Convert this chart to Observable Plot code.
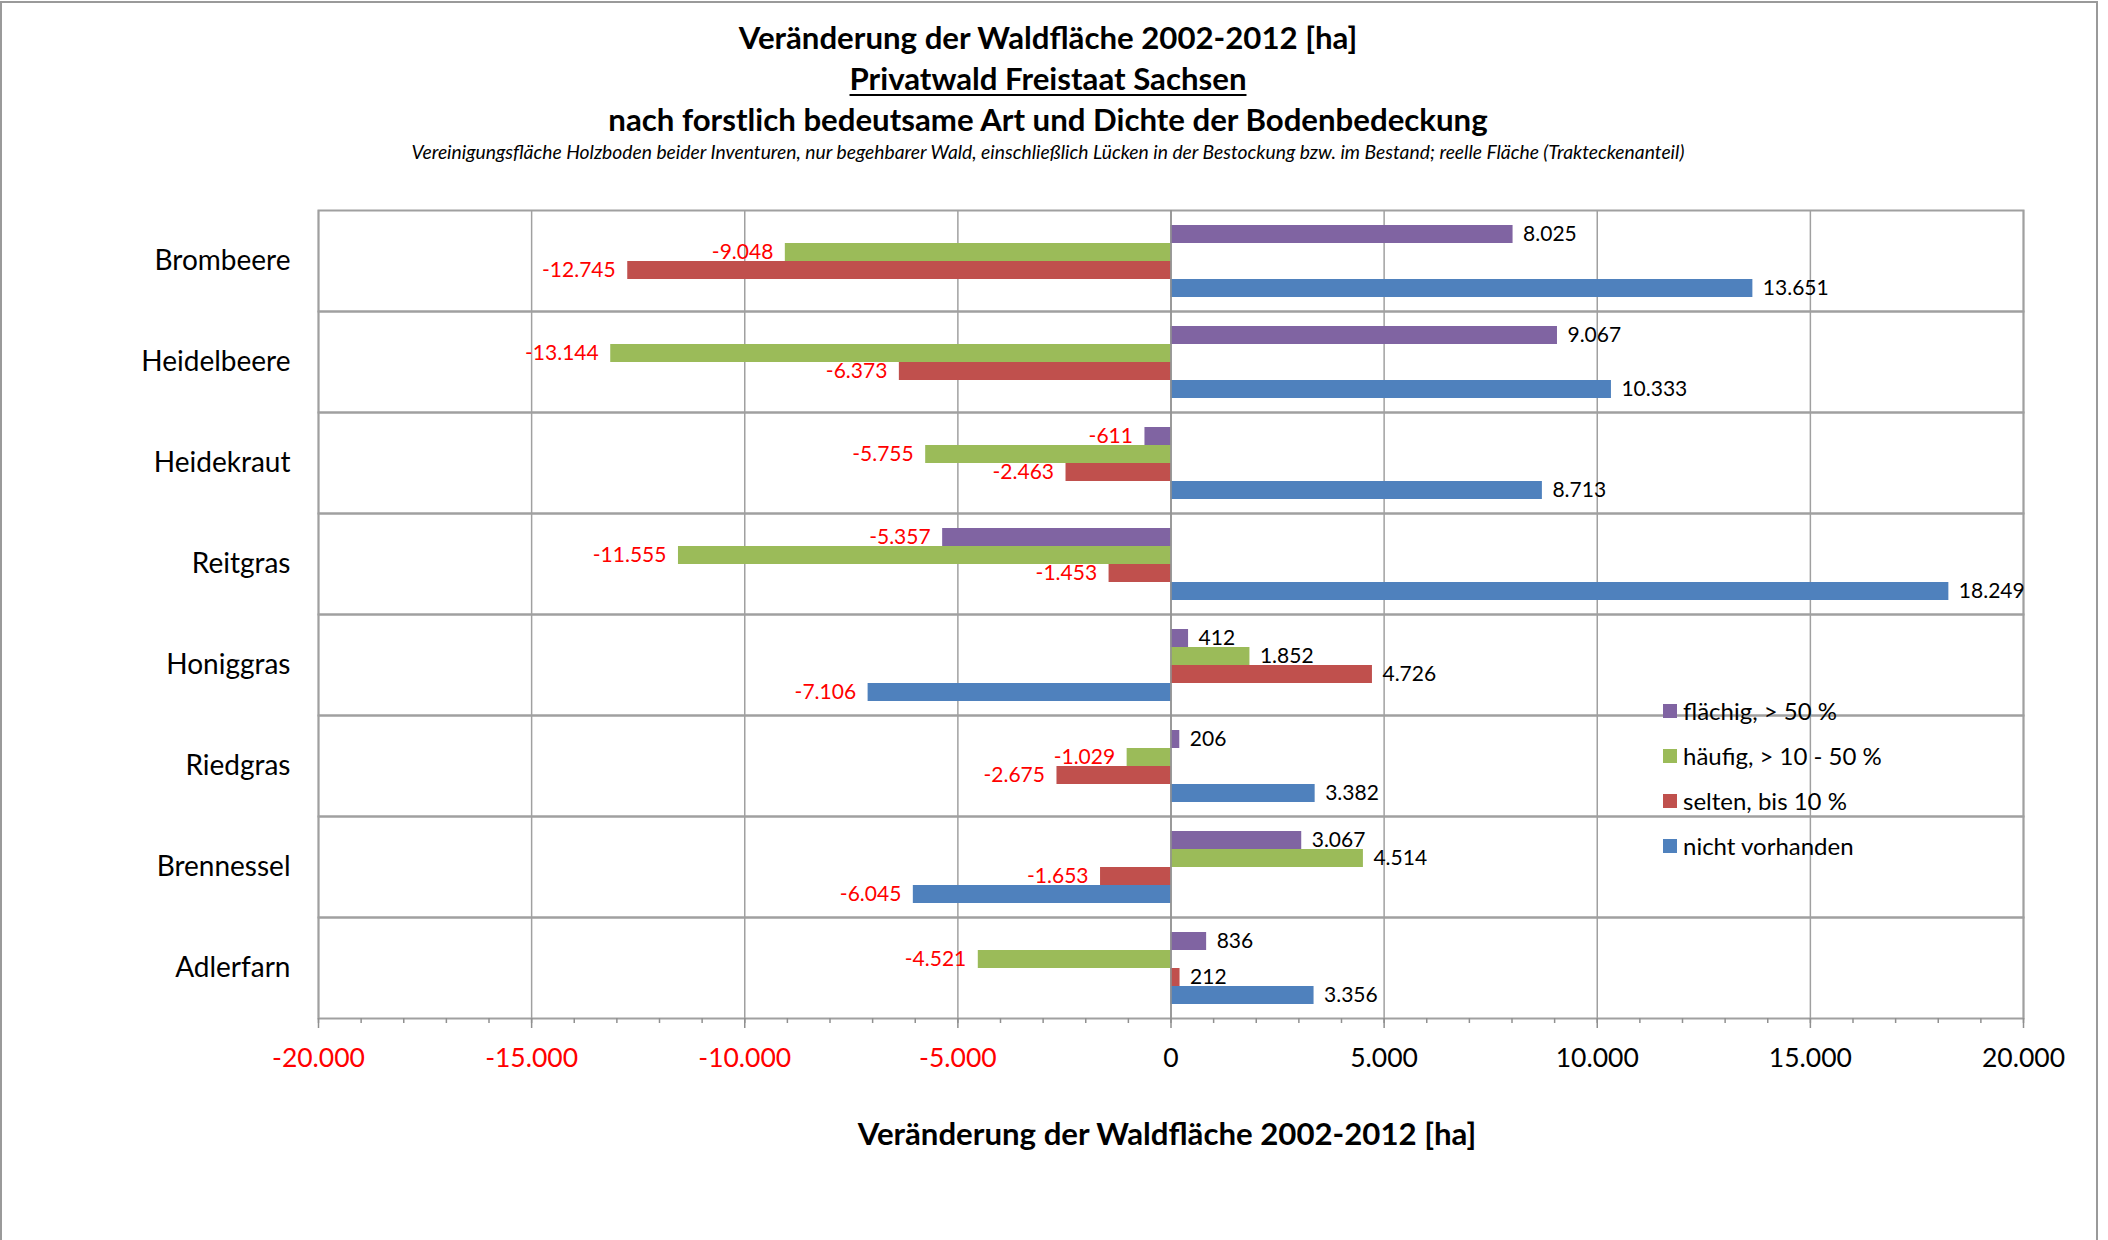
<!DOCTYPE html>
<html>
<head>
<meta charset="utf-8">
<script src="https://cdn.jsdelivr.net/npm/d3@7"></script>
<script src="https://cdn.jsdelivr.net/npm/@observablehq/plot@0.6"></script>
<style>
  html, body { margin: 0; padding: 0; background: #fff; overflow: hidden; }
  body { font-family: Lato, "Open Sans", sans-serif; }
  #wrap { position: relative; width: 2108px; height: 1240px; }
  #border { position: absolute; left: 0; top: 1px; width: 2098px; height: 1300px; border: 2px solid #9a9a9a; box-sizing: border-box; pointer-events: none; }
  #header { position: relative; height: 170px; }
  .t { position: absolute; left: 0; width: 2096px; text-align: center; color: #000; white-space: nowrap; }
  .t1 { font-weight: bold; font-size: 31.2px; line-height: 40px; }
  .sub { font-style: italic; font-size: 19.3px; line-height: 24px; }
  #xlabel { position: absolute; left: 0; width: 2334px; text-align: center; top: 1113px; font-weight: bold; font-size: 31.2px; line-height: 40px; color: #000; }
  #legend { position: absolute; left: 1663px; top: 688px; font-size: 24px; color: #000; }
  #legend .row { height: 45px; display: flex; align-items: center; }
  #legend .sw { width: 14px; height: 14px; margin-right: 6px; flex: none; }
  #chart svg { display: block; }
</style>
</head>
<body>
<div id="wrap">
  <div id="border"></div>
  <div id="header"></div>
  <div id="chart"></div>
  <div id="xlabel"></div>
  <div id="legend"></div>
</div>
<script>
const titleLines = ["Veränderung der Waldfläche 2002-2012 [ha]", "Privatwald Freistaat Sachsen", "nach forstlich bedeutsame Art und Dichte der Bodenbedeckung"];
const subtitle = "Vereinigungsfläche Holzboden beider Inventuren, nur begehbarer Wald, einschließlich Lücken in der Bestockung bzw. im Bestand; reelle Fläche (Trakteckenanteil)";
const xTitle = "Veränderung der Waldfläche 2002-2012 [ha]";

const categories = ["Brombeere", "Heidelbeere", "Heidekraut", "Reitgras", "Honiggras", "Riedgras", "Brennessel", "Adlerfarn"];
const seriesNames = ["flächig, > 50 %", "häufig, > 10 - 50 %", "selten, bis 10 %", "nicht vorhanden"];
const seriesColors = ["#8064A2", "#9BBB59", "#C0504D", "#4F81BD"];
const flaechig = [8025, 9067, -611, -5357, 412, 206, 3067, 836];
const haeufig = [-9048, -13144, -5755, -11555, 1852, -1029, 4514, -4521];
const selten = [-12745, -6373, -2463, -1453, 4726, -2675, -1653, 212];
const nichtVorhanden = [13651, 10333, 8713, 18249, -7106, 3382, -6045, 3356];
const majorTicks = [-20000, -15000, -10000, -5000, 0, 5000, 10000, 15000, 20000];
const minorTicks = d3.range(-20000, 20001, 1000);

const valuesBySeries = [flaechig, haeufig, selten, nichtVorhanden];
const data = [];
categories.forEach((cat, i) => {
  seriesNames.forEach((s, j) => data.push({cat, series: s, value: valuesBySeries[j][i]}));
});

const de = d3.formatLocale({decimal: ",", thousands: ".", grouping: [3], currency: ["", " €"], minus: "-"});
const fmt = de.format(",d");

// header
const header = document.getElementById("header");
const centers = [37, 78, 119];
titleLines.forEach((t, i) => {
  const d = document.createElement("div");
  d.className = "t t1";
  d.style.top = (centers[i] - 20) + "px";
  if (i === 1) d.innerHTML = '<span style="text-decoration: underline; text-underline-offset: 4px; text-decoration-thickness: 2px;">' + t + '</span>';
  else d.textContent = t;
  header.appendChild(d);
});
const sd = document.createElement("div");
sd.className = "t sub";
sd.style.top = (152 - 12) + "px";
sd.textContent = subtitle;
header.appendChild(sd);

document.getElementById("xlabel").textContent = xTitle;

const gridColor = "#a0a0a0";
const chart = Plot.plot({
  width: 2108,
  height: 930,
  marginLeft: 318,
  marginRight: 85,
  marginTop: 39,
  marginBottom: 81,
  style: {fontFamily: "Lato, 'Open Sans', sans-serif", fontSize: "21px", color: "#000", background: "transparent"},
  x: {domain: [-20000, 20000]},
  y: {domain: seriesNames, axis: null, paddingInner: 0, paddingOuter: 0.72},
  fy: {domain: categories, padding: 0},
  color: {domain: seriesNames, range: seriesColors},
  marks: [
    Plot.gridX(majorTicks, {stroke: gridColor, strokeOpacity: 1, strokeWidth: 1.5}),
    Plot.frame({stroke: gridColor, strokeWidth: 2}),
    Plot.barX(data, {x: "value", y: "series", fy: "cat", fill: "series"}),
    Plot.ruleX([0], {stroke: "#909090", strokeWidth: 1.5}),
    Plot.text(data.filter(d => d.value >= 0), {x: "value", y: "series", fy: "cat", text: d => fmt(d.value), textAnchor: "start", dx: 10, fill: "#000", fontSize: 21}),
    Plot.text(data.filter(d => d.value < 0), {x: "value", y: "series", fy: "cat", text: d => fmt(d.value), textAnchor: "end", dx: -12, fill: "#ff0000", fontSize: 21}),
    Plot.axisX(minorTicks, {tickSize: 5, tickFormat: () => "", label: null, stroke: "#909090", strokeWidth: 1.5}),
    Plot.axisX(majorTicks, {tickSize: 10, tickFormat: () => "", label: null, stroke: "#909090", strokeWidth: 1.5}),
    Plot.axisX(majorTicks.filter(v => v < 0), {tickSize: 0, tickPadding: 30, tickFormat: fmt, label: null, fill: "#ff0000", fontSize: 26.5}),
    Plot.axisX(majorTicks.filter(v => v >= 0), {tickSize: 0, tickPadding: 30, tickFormat: fmt, label: null, fill: "#000", fontSize: 26.5}),
    Plot.axisFy({anchor: "left", tickSize: 0, tickPadding: 28, label: null, fontSize: 28, fill: "#000"})
  ]
});
document.getElementById("chart").appendChild(chart);

// legend from the color scale
const color = chart.scale("color");
const legend = document.getElementById("legend");
color.domain.forEach((s, i) => {
  const row = document.createElement("div");
  row.className = "row";
  row.innerHTML = '<div class="sw" style="background:' + color.range[i] + '"></div><span>' + s + '</span>';
  legend.appendChild(row);
});
</script>
</body>
</html>
